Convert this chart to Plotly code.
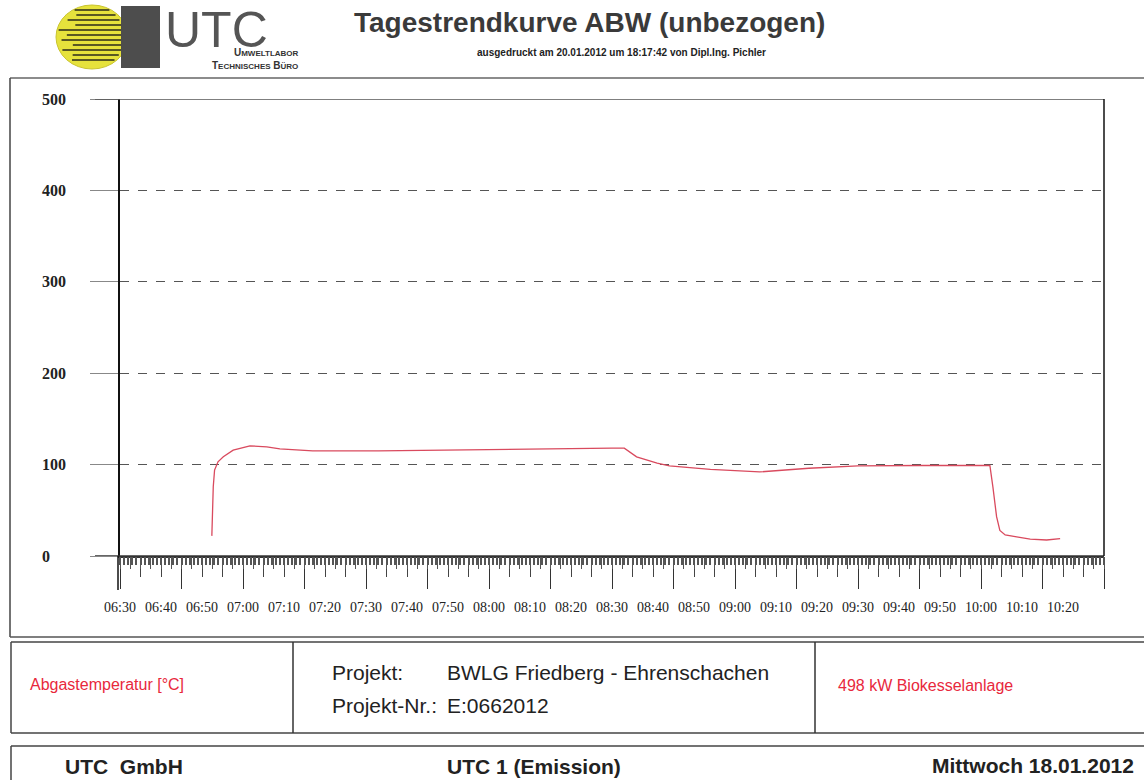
import math
import plotly.graph_objects as go

# ---------------- data ----------------
DAY = "2012-01-18 "
times = ["06:52:24", "06:52:45", "06:53:04", "06:53:54", "06:55:12", "06:57:36",
         "07:01:42", "07:05:48", "07:09:00", "07:17:00", "07:33:00", "07:50:00",
         "08:10:00", "08:30:00", "08:33:00", "08:36:00", "08:41:00", "08:44:00",
         "08:54:00", "09:06:00", "09:18:00", "09:30:00", "09:45:00", "10:02:10",
         "10:02:54", "10:03:48", "10:04:36", "10:05:54", "10:08:42", "10:12:00",
         "10:16:00", "10:19:18"]
temps = [22, 76, 94, 103, 108.5, 115.8,
         120.5, 119.5, 117.3, 115, 115, 116,
         117.5, 118, 118, 108.5, 101.6, 98.7,
         94.8, 92, 96, 98.7, 99, 99,
         75.7, 43, 28, 23, 21, 18.5,
         17.5, 19]
y_ticks = [0, 100, 200, 300, 400, 500]
x_labels = ["06:30", "06:40", "06:50", "07:00", "07:10", "07:20", "07:30", "07:40",
            "07:50", "08:00", "08:10", "08:20", "08:30", "08:40", "08:50", "09:00",
            "09:10", "09:20", "09:30", "09:40", "09:50", "10:00", "10:10", "10:20"]
x_start = "06:30:00"
x_end = "10:30:00"

title = "Tagestrendkurve ABW (unbezogen)"
subtitle = "ausgedruckt am 20.01.2012 um 18:17:42 von Dipl.Ing. Pichler"
series_name = "Abgastemperatur [°C]"
plant = "498 kW Biokesselanlage"
project = "BWLG Friedberg - Ehrenschachen"
project_no = "E:0662012"

# ---------------- geometry helpers (pixel -> paper) ----------------
L, R, T, B = 120, 40, 99, 224
W, H = 1144, 780
PW, PH = W - L - R, H - T - B


def PX(x):
    return (x - L) / PW


def PY(y):
    return (H - B - y) / PH


xr = [DAY + x_start, DAY + x_end]
MIN = 60000

fig = go.Figure()
fig.add_trace(go.Scatter(x=[DAY + t for t in times], y=temps, mode="lines",
                         line=dict(color="#d94a5e", width=1.3), showlegend=False,
                         hoverinfo="x+y"))
for ax in ["x2", "x3", "x4"]:
    fig.add_trace(go.Scatter(x=[], y=[], xaxis=ax, yaxis="y", showlegend=False))

tickfont = dict(family="Liberation Serif, Times New Roman, serif", size=14, color="#222")

fig.update_layout(
    width=W, height=H,
    margin=dict(l=L, r=R, t=T, b=B),
    paper_bgcolor="white", plot_bgcolor="white",
    showlegend=False,
    xaxis=dict(type="date", range=xr, tickmode="array",
               tickvals=[DAY + s for s in x_labels], ticktext=x_labels,
               ticks="outside", ticklen=37,
               tickcolor="rgba(0,0,0,0)", tickfont=tickfont, showgrid=False,
               zeroline=False, showline=True, linecolor="#333", linewidth=1.5),
    xaxis2=dict(type="date", range=xr, overlaying="x", anchor="y", side="bottom",
                showticklabels=False, dtick=15 * MIN, tick0=DAY + x_start,
                ticks="outside", ticklen=32, tickcolor="#333", tickwidth=1.3,
                minor=dict(dtick=5 * MIN, tick0=DAY + x_start, ticks="outside",
                           ticklen=20, tickcolor="#444", tickwidth=1.2),
                showgrid=False, zeroline=False, showline=False),
    xaxis3=dict(type="date", range=xr, overlaying="x", anchor="y", side="bottom",
                showticklabels=False, dtick=MIN, tick0=DAY + x_start,
                ticks="outside", ticklen=8, tickcolor="#555", tickwidth=1.6,
                showgrid=False, zeroline=False, showline=False),
    xaxis4=dict(type="date", range=xr, overlaying="x", anchor="y", side="bottom",
                showticklabels=False, dtick=2.5 * MIN, tick0=DAY + x_start,
                ticks="outside", ticklen=12, tickcolor="#555", tickwidth=1.2,
                showgrid=False, zeroline=False, showline=False),
    yaxis=dict(range=[0, 500], tickvals=y_ticks, showticklabels=False,
               ticks="outside", ticklen=28, tickcolor="#888",
               showgrid=True, gridcolor="#555", griddash="dash", gridwidth=1,
               zeroline=False, showline=True, linecolor="#111", linewidth=1.5),
)

shapes = []
shapes.append(dict(type="line", xref="paper", yref="y", x0=PX(95), x1=1, y0=500, y1=500,
                   line=dict(color="#555", width=1.6)))
shapes.append(dict(type="line", xref="paper", yref="y", x0=PX(95), x1=1, y0=0, y1=0,
                   line=dict(color="#333", width=1.5)))
shapes.append(dict(type="line", xref="paper", yref="paper", x0=1, x1=1, y0=0, y1=1,
                   line=dict(color="#111", width=1.5)))
shapes.append(dict(type="line", xref="paper", yref="paper", x0=PX(118), x1=PX(118),
                   y0=0, y1=PY(590), line=dict(color="#111", width=1.5)))
# outer chart frame
shapes.append(dict(type="line", xref="paper", yref="paper", x0=PX(10), x1=PX(1144),
                   y0=PY(78), y1=PY(78), line=dict(color="#666", width=1.5)))
shapes.append(dict(type="line", xref="paper", yref="paper", x0=PX(10), x1=PX(10),
                   y0=PY(78), y1=PY(637), line=dict(color="#444", width=1.5)))
shapes.append(dict(type="line", xref="paper", yref="paper", x0=PX(10), x1=PX(1144),
                   y0=PY(637), y1=PY(637), line=dict(color="#555", width=1.5)))
# info box
for yy in (642, 733):
    shapes.append(dict(type="line", xref="paper", yref="paper", x0=PX(11), x1=PX(1144),
                       y0=PY(yy), y1=PY(yy), line=dict(color="#444", width=1.5)))
shapes.append(dict(type="line", xref="paper", yref="paper", x0=PX(11), x1=PX(11),
                   y0=PY(642), y1=PY(733), line=dict(color="#444", width=1.5)))
for xd in (293, 815):
    shapes.append(dict(type="line", xref="paper", yref="paper", x0=PX(xd), x1=PX(xd),
                       y0=PY(642), y1=PY(733), line=dict(color="#333", width=1.5)))
# footer box
shapes.append(dict(type="line", xref="paper", yref="paper", x0=PX(11), x1=PX(1144),
                   y0=PY(746), y1=PY(746), line=dict(color="#444", width=1.5)))
shapes.append(dict(type="line", xref="paper", yref="paper", x0=PX(11), x1=PX(11),
                   y0=PY(746), y1=PY(782), line=dict(color="#444", width=1.5)))

# logo: yellow ellipse with dark streaks, dark block
cx, cy, rx, ry = 92, 37, 36, 32
shapes.append(dict(type="circle", xref="paper", yref="paper", x0=PX(cx - rx), x1=PX(cx + rx),
                   y0=PY(cy - ry), y1=PY(cy + ry), fillcolor="#e6e23c",
                   line=dict(color="#c9c430", width=1)))
for i, dy in enumerate(range(-27, 28, 5)):
    half = rx * math.sqrt(max(0.0, 1 - (dy / ry) ** 2))
    frac = [0.9, 0.6, 0.8, 0.5, 0.95, 0.7, 0.85, 0.55, 0.9, 0.65, 0.8][i % 11]
    shapes.append(dict(type="line", xref="paper", yref="paper",
                       x0=PX(cx - half * frac), x1=PX(cx + half * 0.9),
                       y0=PY(cy + dy), y1=PY(cy + dy),
                       line=dict(color="#2a2a1a", width=1.6)))
shapes.append(dict(type="rect", xref="paper", yref="paper", x0=PX(121), x1=PX(160),
                   y0=PY(68), y1=PY(6), fillcolor="#4d4d4d", line=dict(width=0)))

fig.update_layout(shapes=shapes)

ann = []
for v in y_ticks:
    ann.append(dict(xref="paper", yref="y", x=PX(40), y=v, text=str(v), showarrow=False,
                    xanchor="left", yanchor="middle",
                    font=dict(family="Liberation Serif, Times New Roman, serif", size=16,
                              color="#222", weight="bold")))

sans = "Liberation Sans, Arial, sans-serif"


def text(x, y, s, size, color="#222", bold=False, anchor="left", family=sans, align="left"):
    ann.append(dict(xref="paper", yref="paper", x=PX(x), y=PY(y), text=s, showarrow=False,
                    xanchor=anchor, yanchor="middle", align=align,
                    font=dict(family=family, size=size, color=color,
                              weight="bold" if bold else "normal")))


text(163, 30, "UTC", 50, color="#555")
text(301, 59,
     "U<span style='font-size:8px'>MWELTLABOR</span><br>"
     "T<span style='font-size:8px'>ECHNISCHES</span> B<span style='font-size:8px'>ÜRO</span>",
     10, color="#333", bold=True, anchor="right", align="right")
text(589, 22, title, 28, color="#3a3a3a", bold=True, anchor="center")
text(621, 52, subtitle, 10, color="#222", bold=True, anchor="center")

text(28, 684, series_name, 16, color="#e8283c")
text(330, 672, "Projekt:", 21)
text(445, 672, project, 21)
text(330, 705, "Projekt-Nr.:", 21)
text(445, 705, project_no, 21)
text(836, 685, plant, 16, color="#e8283c")
text(63, 766, "UTC&nbsp;&nbsp;GmbH", 21, bold=True)
text(445, 766, "UTC 1 (Emission)", 21, bold=True)
text(1136, 765, "Mittwoch 18.01.2012", 21, bold=True, anchor="right")

fig.update_layout(annotations=ann)
fig.write_html("out.html", config={"displayModeBar": False},
               post_script="document.body.style.margin='0';document.body.style.overflow='hidden';")
